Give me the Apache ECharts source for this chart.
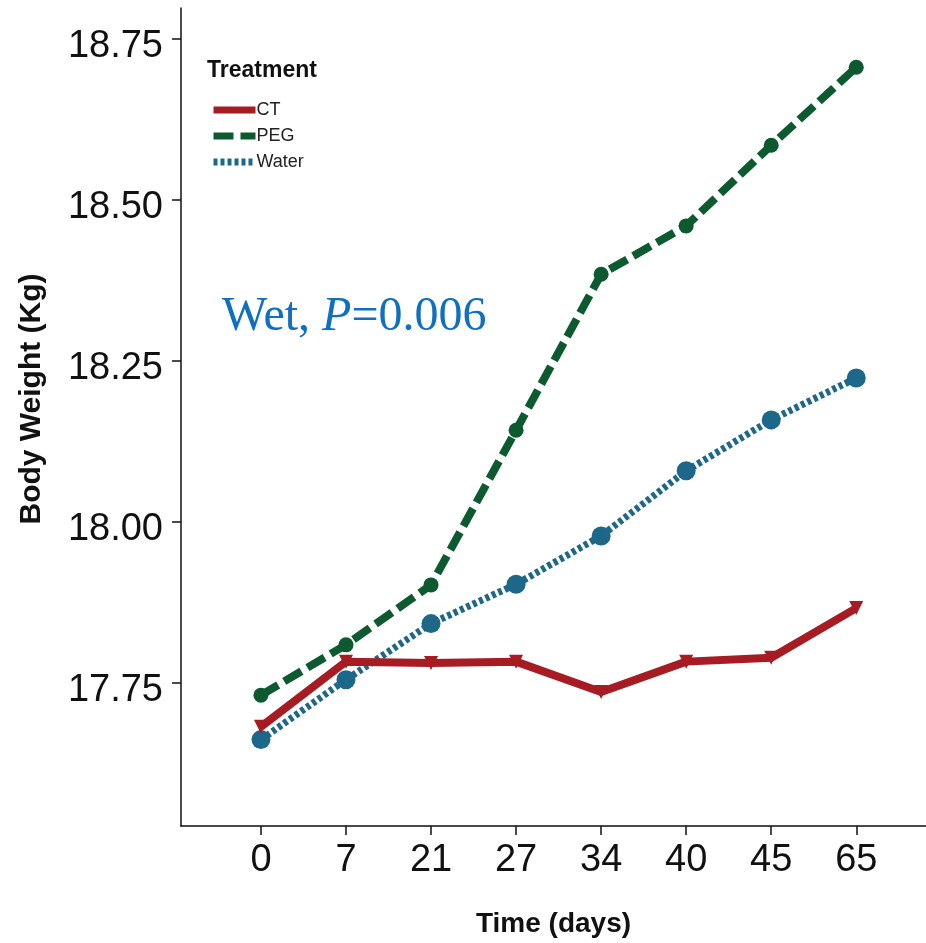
<!DOCTYPE html>
<html><head><meta charset="utf-8">
<script src="https://cdn.jsdelivr.net/npm/echarts@6/dist/echarts.min.js"></script>
<style>html,body{margin:0;padding:0;background:#fff}#c{width:926px;height:943px}</style>
</head><body><div id="c"></div>
<script>
const categories = ['0','7','21','27','34','40','45','65'];
const ctValues = [17.682, 17.783, 17.781, 17.783, 17.736, 17.783, 17.789, 17.866];
const pegValues = [17.731, 17.809, 17.902, 18.142, 18.384, 18.459, 18.584, 18.705];
const waterValues = [17.662, 17.755, 17.842, 17.903, 17.978, 18.079, 18.158, 18.223];
const yTicks = [17.75, 18.00, 18.25, 18.50, 18.75];
const seriesNames = ['CT', 'PEG', 'Water'];

const xIdx = categories.map((c, i) => i);
const toData = arr => arr.map((v, i) => [i, v]);

const chart = echarts.init(document.getElementById('c'), null, {renderer: 'canvas'});
const axisColor = '#111';
chart.setOption({
  backgroundColor: '#fff',
  animation: false,
  grid: {left: 181, right: 0, top: 8, bottom: 117, containLabel: false},
  title: {
    text: 'Treatment', left: 202, top: 54,
    textStyle: {fontFamily: 'Liberation Sans', fontWeight: 'bold', fontSize: 23, color: '#111'}
  },
  legend: {
    orient: 'vertical', left: 205, top: 96, itemGap: 8,
    itemWidth: 42, itemHeight: 19,
    data: seriesNames,
    itemStyle: {opacity: 0},
    lineStyle: {width: 7},
    textStyle: {fontFamily: 'Liberation Sans', fontSize: 18, color: '#222', padding: [0,0,0,-4]}
  },
  xAxis: {
    type: 'value', min: -0.94, max: 7.82,
    name: 'Time (days)', nameLocation: 'middle', nameGap: 84,
    nameTextStyle: {fontFamily: 'Liberation Sans', fontWeight: 'bold', fontSize: 28, color: '#111'},
    axisLine: {show: true, onZero: false, lineStyle: {color: axisColor, width: 1.5}},
    axisTick: {show: true, customValues: xIdx, length: 9, lineStyle: {color: axisColor, width: 1.5}},
    axisLabel: {customValues: xIdx, formatter: v => categories[Math.round(v)], margin: 16,
      fontFamily: 'Liberation Sans', fontSize: 38, color: '#111'},
    splitLine: {show: false}
  },
  yAxis: {
    type: 'value', min: 17.528, max: 18.797,
    axisLine: {show: true, onZero: false, lineStyle: {color: axisColor, width: 1.5}},
    axisTick: {show: true, customValues: yTicks, length: 9, lineStyle: {color: axisColor, width: 1.5}},
    axisLabel: {customValues: yTicks, formatter: v => v.toFixed(2), margin: 18,
      verticalAlign: 'top', lineHeight: 16,
      fontFamily: 'Liberation Sans', fontSize: 38, color: '#111'},
    splitLine: {show: false}
  },
  graphic: [{
    type: 'text', left: 222, top: 293,
    style: {
      text: '{n|Wet, }{i|P}{n|=0.006}',
      rich: {
        n: {fontFamily: 'Liberation Serif', fontSize: 48, fill: '#0f6fc0'},
        i: {fontFamily: 'Liberation Serif', fontSize: 48, fontStyle: 'italic', fill: '#0f6fc0'}
      }
    }
  }, {
    type: 'text', x: 32, y: 399, rotation: Math.PI / 2,
    style: {
      text: 'Body Weight (Kg)', fontFamily: 'Liberation Sans', fontWeight: 'bold', fontSize: 30,
      fill: '#111', align: 'center', verticalAlign: 'middle'
    }
  }],
  series: [
    {
      name: 'CT', type: 'line', data: toData(ctValues),
      symbol: 'triangle', symbolRotate: 180, symbolSize: 14,
      itemStyle: {color: '#a61c22'},
      lineStyle: {color: '#a61c22', width: 8, type: 'solid'},
      z: 3
    },
    {
      name: 'PEG', type: 'line', data: toData(pegValues),
      symbol: 'circle', symbolSize: 15,
      itemStyle: {color: '#0d5a30'},
      lineStyle: {color: '#0d5a30', width: 8, type: [20, 7]},
      z: 2
    },
    {
      name: 'Water', type: 'line', data: toData(waterValues),
      symbol: 'circle', symbolSize: 19,
      itemStyle: {color: '#1d6789'},
      lineStyle: {color: '#1d6789', width: 7, type: [4, 3]},
      z: 1
    }
  ]
});
</script>
</body></html>
